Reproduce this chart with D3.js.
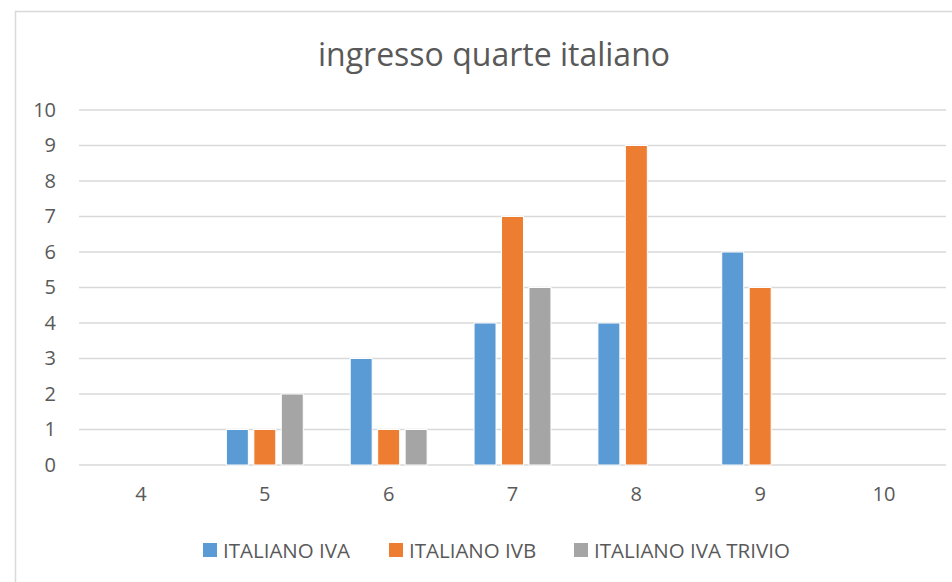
<!DOCTYPE html>
<html>
<head>
<meta charset="utf-8">
<script src="https://cdn.jsdelivr.net/npm/d3@7"></script>
<style>
  body { margin: 0; background: #fff; }
  svg { display: block; font-family: "Open Sans", "Noto Sans", sans-serif; }
</style>
</head>
<body>
<div id="chart"></div>
<script>
// chart data
const categories = ['4', '5', '6', '7', '8', '9', '10'];
const seriesNames = ['ITALIANO IVA', 'ITALIANO IVB', 'ITALIANO IVA TRIVIO'];
const valuesIVA = [0, 1, 3, 4, 4, 6, 0];
const valuesIVB = [0, 1, 1, 7, 9, 5, 0];
const valuesTrivio = [0, 2, 1, 5, 0, 0, 0];
const yTicks = [0, 1, 2, 3, 4, 5, 6, 7, 8, 9, 10];
const colors = ['#5B9BD5', '#ED7D31', '#A5A5A5'];

const width = 952, height = 582;
const margin = { left: 79, right: 6, top: 110, bottom: 117 };
const textColor = '#595959';
const labelSize = '20px';

const svg = d3.select('#chart').append('svg')
    .attr('width', width)
    .attr('height', height);

// chart border (runs off the right and bottom edges)
svg.append('rect')
    .attr('x', 15.5).attr('y', 11.5)
    .attr('width', 960).attr('height', 600)
    .attr('fill', '#fff')
    .attr('stroke', '#D9D9D9')
    .attr('stroke-width', 1.5);

svg.append('text')
    .attr('x', 494).attr('y', 66)
    .attr('text-anchor', 'middle')
    .attr('fill', textColor)
    .style('font-size', '32px')
    .text('ingresso quarte italiano');

const x0 = d3.scaleBand()
    .domain(categories)
    .range([margin.left, width - margin.right])
    .paddingInner(0.379)
    .paddingOuter(0.19);

const x1 = d3.scaleBand()
    .domain(seriesNames)
    .range([0, x0.bandwidth()])
    .paddingInner(0.2);

const y = d3.scaleLinear()
    .domain([0, 10])
    .range([height - margin.bottom, margin.top]);

// gridlines
svg.append('g')
    .selectAll('line')
    .data(yTicks)
    .join('line')
    .attr('x1', margin.left)
    .attr('x2', width - margin.right)
    .attr('y1', d => y(d))
    .attr('y2', d => y(d))
    .attr('stroke', '#D9D9D9')
    .attr('stroke-width', 1.5);

// y axis labels
const yAxis = svg.append('g')
    .attr('transform', `translate(${margin.left - 23},0)`)
    .call(d3.axisLeft(y).tickValues(yTicks).tickSize(0).tickPadding(0));
yAxis.select('.domain').remove();
yAxis.selectAll('text')
    .attr('fill', textColor)
    .style('font-size', labelSize)
    .style('font-family', '"Open Sans", sans-serif');

// x axis labels
const xAxis = svg.append('g')
    .attr('transform', `translate(0,${y(0) + 22})`)
    .call(d3.axisBottom(x0).tickSize(0).tickPadding(0));
xAxis.select('.domain').remove();
xAxis.selectAll('text')
    .attr('fill', textColor)
    .style('font-size', labelSize)
    .style('font-family', '"Open Sans", sans-serif');

// bars
const allSeries = [valuesIVA, valuesIVB, valuesTrivio];
const rows = categories.map((c, i) => ({
    cat: c,
    vals: seriesNames.map((s, j) => ({ name: s, value: allSeries[j][i], color: colors[j] }))
}));

svg.append('g')
    .selectAll('g')
    .data(rows)
    .join('g')
    .attr('transform', d => `translate(${x0(d.cat)},0)`)
    .selectAll('rect')
    .data(d => d.vals.filter(v => v.value > 0))
    .join('rect')
    .attr('x', d => x1(d.name))
    .attr('width', x1.bandwidth())
    .attr('y', d => y(d.value))
    .attr('height', d => y(0) - y(d.value))
    .attr('fill', d => d.color)
    .attr('stroke', '#fff')
    .attr('stroke-width', 1);

// legend
const legendX = [203, 389, 574];
const legend = svg.append('g')
    .selectAll('g')
    .data(seriesNames)
    .join('g')
    .attr('transform', (d, i) => `translate(${legendX[i]},543)`);

legend.append('rect')
    .attr('width', 14).attr('height', 14)
    .attr('fill', (d, i) => colors[i]);

legend.append('text')
    .attr('x', 20).attr('y', 14.5)
    .attr('fill', textColor)
    .style('font-size', '20.5px')
    .text(d => d);
</script>
</body>
</html>
